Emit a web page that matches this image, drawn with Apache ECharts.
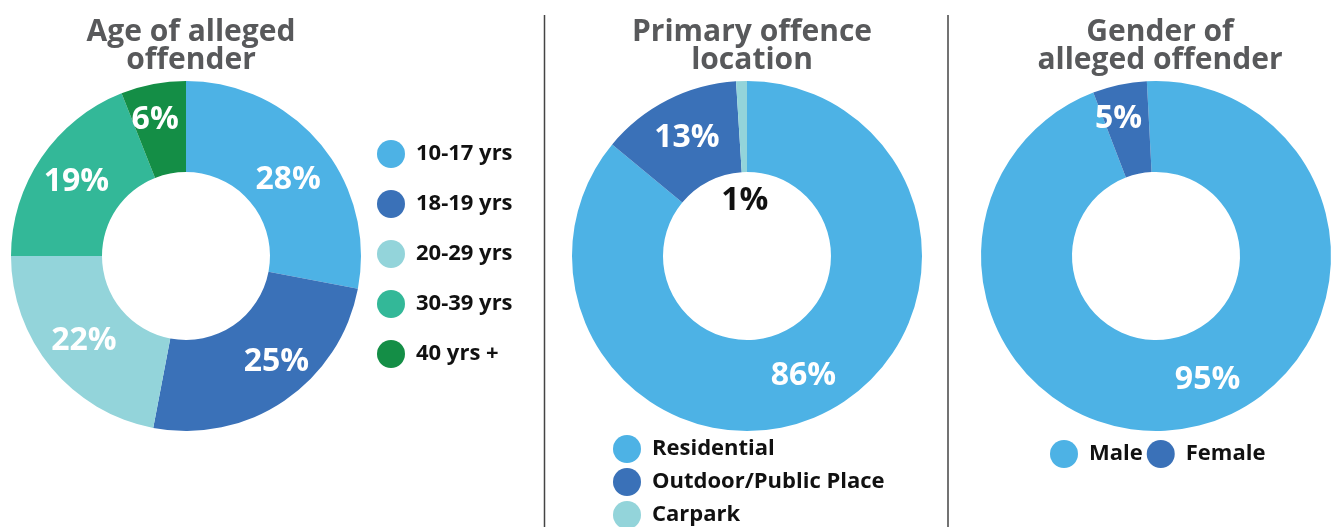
<!DOCTYPE html>
<html>
<head>
<meta charset="utf-8">
<script src="https://cdn.jsdelivr.net/npm/echarts@6/dist/echarts.min.js"></script>
<style>
  html, body { margin: 0; padding: 0; background: #fff; }
  #chart { width: 1340px; height: 527px; }
</style>
</head>
<body>
<div id="chart"></div>
<script>
// data
var ageNames = ['10-17 yrs', '18-19 yrs', '20-29 yrs', '30-39 yrs', '40 yrs +'];
var ageValues = [28, 25, 22, 19, 6];

var locationNames = ['Residential', 'Outdoor/Public Place', 'Carpark'];
var locationValues = [86, 13, 1];

var genderNames = ['Male', 'Female'];
var genderValues = [95, 5];

var titles = ['Age of alleged\noffender', 'Primary offence\nlocation', 'Gender of\nalleged offender'];

// colours
var ageColors = ['#4db2e5', '#3a71b8', '#93d4da', '#33b898', '#148e46'];
var locationColors = ['#4db2e5', '#3a71b8', '#93d4da'];
var genderColors = ['#4db2e5', '#3a71b8'];

var FONT = '"Open Sans", sans-serif';
var el = document.getElementById('chart');
var chart = echarts.init(el);

function slices(names, values, colors, labelTweaks) {
    return names.map(function (n, i) {
        var item = { name: n, value: values[i], itemStyle: { color: colors[i] } };
        if (labelTweaks && labelTweaks[i]) item.label = labelTweaks[i];
        return item;
    });
}

function donut(center, startAngle, data) {
    return {
        type: 'pie',
        center: center,
        radius: [84, 175],
        startAngle: startAngle,
        clockwise: true,
        silent: true,
        avoidLabelOverlap: false,
        itemStyle: { borderWidth: 0 },
        label: {
            show: true,
            position: 'inside',
            formatter: '{c}%',
            color: '#fff',
            fontFamily: FONT,
            fontWeight: 'bold',
            fontSize: 32
        },
        labelLine: { show: false },
        data: data
    };
}

var titleStyle = {
    color: '#58595b',
    fontFamily: FONT,
    fontWeight: 'bold',
    fontSize: 30,
    lineHeight: 28
};
var legendText = {
    color: '#111',
    fontFamily: FONT,
    fontWeight: 'bold',
    fontSize: 22,
    padding: [0, 0, 0, 6]
};

var option = {
    animation: false,
    backgroundColor: '#fff',
    title: [
        { text: titles[0], left: 186, top: 13, textAlign: 'center', textStyle: titleStyle },
        { text: titles[1], left: 747, top: 13, textAlign: 'center', textStyle: titleStyle },
        { text: titles[2], left: 1155, top: 13, textAlign: 'center', textStyle: titleStyle }
    ],
    legend: [
        {
            data: ageNames, orient: 'vertical', left: 372, top: 135,
            icon: 'circle', itemWidth: 28, itemHeight: 28, itemGap: 22,
            selectedMode: false, textStyle: legendText
        },
        {
            data: locationNames, orient: 'vertical', left: 608, top: 430, height: 140,
            icon: 'circle', itemWidth: 28, itemHeight: 28, itemGap: 5,
            selectedMode: false, textStyle: legendText
        },
        {
            data: genderNames, orient: 'horizontal', left: 1045, top: 435,
            icon: 'circle', itemWidth: 28, itemHeight: 28, itemGap: 4,
            selectedMode: false, textStyle: legendText
        }
    ],
    series: [
        donut([186, 256], 90, slices(ageNames, ageValues, ageColors,
            [{ offset: [0, 8] }, { offset: [16, -4] }, null, null, { offset: [-6, -6] }])),
        donut([747, 256], 90, slices(locationNames, locationValues, locationColors,
            [null, null, { color: '#111', offset: [2, 77] }])),
        donut([1156, 256], 93, slices(genderNames, genderValues, genderColors,
            [{ offset: [24, -6] }, { offset: [-10, -8] }]))
    ],
    graphic: [
        { type: 'line', shape: { x1: 544.5, y1: 15, x2: 544.5, y2: 527 }, style: { stroke: '#444', lineWidth: 1.5 } },
        { type: 'line', shape: { x1: 948, y1: 15, x2: 948, y2: 527 }, style: { stroke: '#444', lineWidth: 1.5 } }
    ]
};

chart.setOption(option);
window.addEventListener('resize', function () { chart.resize(); });
</script>
</body>
</html>
